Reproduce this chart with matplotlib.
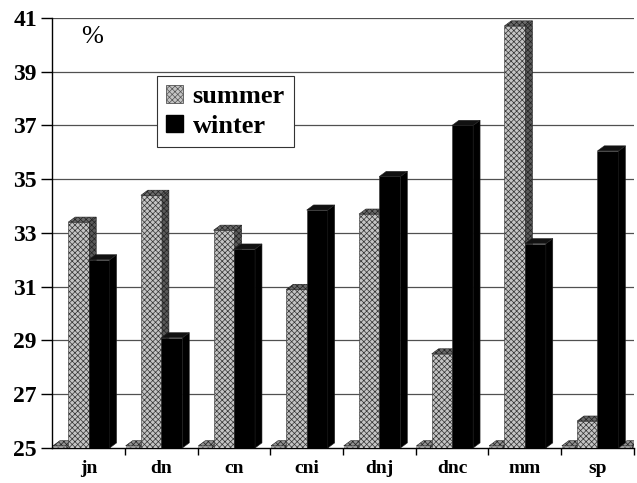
import numpy as np
import matplotlib.pyplot as plt
from matplotlib.patches import Polygon, Rectangle

categories = ['jn', 'dn', 'cn', 'cni', 'dnj', 'dnc', 'mm', 'sp']
summer = [33.4, 34.4, 33.1, 30.9, 33.7, 28.5, 40.7, 26.0]
winter = [32.0, 29.1, 32.4, 33.85, 35.1, 37.0, 32.6, 36.05]
yticks = [25, 27, 29, 31, 33, 35, 37, 39, 41]

base = 25
w = 0.29      # front face width
dx = 0.095    # depth offset (x, data units)
dy = 0.19     # depth offset (y, data units)

plt.rcParams['font.family'] = ['Liberation Serif', 'DejaVu Serif']
plt.rcParams['hatch.color'] = '#8c8c8c'
plt.rcParams['hatch.linewidth'] = 0.5
fig = plt.figure(figsize=(6.37, 4.83), dpi=100)
ax = fig.add_axes([0.082, 0.0725, 0.913, 0.8905])
ax.set_xlim(-0.5, 7.5)
ax.set_ylim(base, 41)

for y in yticks[1:]:
    ax.axhline(y, color='#505050', lw=0.9, zorder=0)


def bar3d(x0, width, val, face, side, top, hatch, z, ec='#333333'):
    ax.add_patch(Rectangle((x0, base), width, val - base, facecolor=face,
                           edgecolor=ec, lw=0.4, hatch=hatch, zorder=z))
    ax.add_patch(Polygon([(x0 + width, base), (x0 + width + dx, base + dy),
                          (x0 + width + dx, val + dy), (x0 + width, val)],
                         closed=True, facecolor=side, edgecolor='#222222',
                         lw=0.4, hatch=hatch, zorder=z))
    ax.add_patch(Polygon([(x0, val), (x0 + dx, val + dy),
                          (x0 + width + dx, val + dy), (x0 + width, val)],
                         closed=True, facecolor=top, edgecolor='#222222',
                         lw=0.4, hatch=hatch, zorder=z))


xs = np.arange(len(categories))
for i in xs:
    # thin floor slabs in the gaps between groups
    bar3d(i - 0.5 + 0.01, 0.19, base + 0.08, '#bdbdbd', '#777777', '#909090',
          'xxxxxx', 2, ec='#777777')
    bar3d(i - 0.28, w, summer[i], '#c4c4c4', '#5a5a5a', '#6a6a6a', 'xxxxxx', 3)
    bar3d(i + 0.0, w, winter[i], 'black', 'black', '#111111', None, 4)
# last slab at the right end
bar3d(7.5 - 0.19, 0.17, base + 0.08, '#bdbdbd', '#777777', '#909090',
      'xxxxxx', 2, ec='#777777')

ax.spines['top'].set_visible(False)
ax.spines['right'].set_visible(False)
ax.spines['left'].set_linewidth(1.0)
ax.spines['bottom'].set_linewidth(1.0)
ax.set_yticks(yticks)
ax.set_yticklabels([str(v) for v in yticks], fontsize=17, fontweight='bold')
ax.tick_params(axis='y', length=8, width=1, pad=3)
ax.set_xticks(xs)
ax.set_xticklabels(categories, fontsize=14, fontweight='bold')
ax.tick_params(axis='x', length=0, pad=9)
ax.set_xticks(np.arange(0.5, len(categories), 1), minor=True)
ax.tick_params(axis='x', which='minor', length=5, width=1)

ax.text(0.05, 0.98, '%', transform=ax.transAxes, fontsize=19, va='top')

h1 = Rectangle((0, 0), 1, 1, facecolor='#c4c4c4', edgecolor='#555555',
               hatch='xxxxxx', lw=0.6)
h2 = Rectangle((0, 0), 1, 1, facecolor='black', edgecolor='black')
leg = ax.legend([h1, h2], ['summer', 'winter'], loc='upper left',
                bbox_to_anchor=(0.18, 0.865), fancybox=False, framealpha=1,
                edgecolor='#333333', prop={'size': 19, 'weight': 'bold'},
                handlelength=0.65, handleheight=0.65, handletextpad=0.35,
                borderpad=0.35, labelspacing=0.25, borderaxespad=0)
leg.get_frame().set_linewidth(0.8)
leg.set_zorder(10)

fig.savefig('out.png', dpi=100)
